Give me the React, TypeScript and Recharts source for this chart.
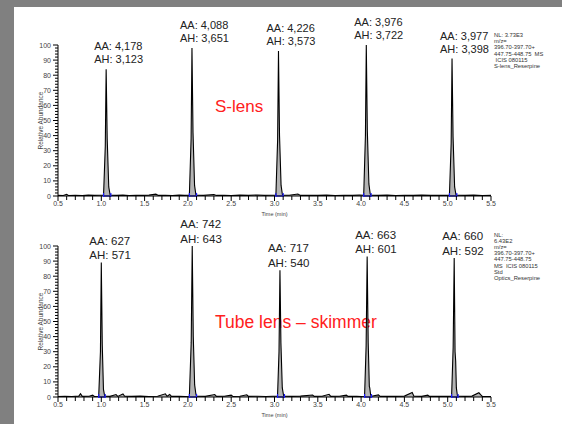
import { ComposedChart, Area, XAxis, YAxis, Scatter, ReferenceLine } from "recharts";
/* eslint-disable  @typescript-eslint/no-explicit-any */

const FONT = "Arial, 'Liberation Sans', Helvetica, sans-serif";

// major tick labels
const X_MAJOR = [0.5, 1.0, 1.5, 2.0, 2.5, 3.0, 3.5, 4.0, 4.5, 5.0, 5.5];
const Y_MAJOR = [0, 10, 20, 30, 40, 50, 60, 70, 80, 90, 100];
// minor ticks every 0.1 min / 2 %
const X_TICKS = Array.from({ length: 51 }, (_, i) => Math.round((0.5 + i * 0.1) * 10) / 10);
const Y_TICKS = Array.from({ length: 51 }, (_, i) => i * 2);

// S-lens trace [time, relative abundance]
const TOP_TRACE: [number, number][] = [
  [0.5, 0.4], [0.56, 0.3], [0.6, 1.1], [0.62, 0.3], [0.7, 0.5], [0.78, 0.3], [0.85, 0.6], [0.92, 0.4], [0.98, 0.5],
  [1.026, 0.5], [1.046, 33], [1.056, 84], [1.068, 38], [1.086, 6], [1.101, 1], [1.11, 0.5],
  [1.18, 0.4], [1.25, 0.6], [1.32, 0.3], [1.4, 0.5], [1.48, 0.4], [1.55, 0.6], [1.63, 1.2], [1.66, 0.4], [1.74, 0.5], [1.82, 0.3], [1.9, 0.6], [1.96, 0.4],
  [2.017, 0.5], [2.037, 38], [2.047, 98], [2.059, 42], [2.077, 7], [2.092, 1], [2.1, 0.5],
  [2.18, 0.4], [2.3, 1.0], [2.33, 0.4], [2.42, 0.5], [2.5, 0.3], [2.6, 0.6], [2.7, 0.4], [2.8, 0.7], [2.88, 0.4], [2.96, 0.5],
  [3.016, 0.5], [3.036, 37], [3.046, 96], [3.058, 40], [3.076, 7], [3.091, 1], [3.1, 0.5],
  [3.17, 0.5], [3.27, 1.3], [3.3, 0.4], [3.4, 0.5], [3.5, 0.4], [3.6, 0.6], [3.7, 0.3], [3.8, 0.5], [3.9, 0.4], [3.98, 0.6],
  [4.03, 0.5], [4.05, 40], [4.06, 100], [4.072, 43], [4.09, 8], [4.105, 1.5], [4.115, 0.5],
  [4.2, 0.4], [4.3, 0.6], [4.4, 0.3], [4.5, 0.5], [4.6, 0.4], [4.7, 0.6], [4.8, 0.4], [4.9, 0.5], [4.98, 0.4],
  [5.02, 0.5], [5.04, 35], [5.05, 91], [5.062, 39], [5.08, 6], [5.095, 1], [5.105, 0.5],
  [5.2, 0.4], [5.3, 0.6], [5.4, 0.3], [5.5, 0.4],
];

// Tube lens - skimmer trace
const BOTTOM_TRACE: [number, number][] = [
  [0.5, 0.3], [0.58, 0.5], [0.66, 0.3], [0.74, 0.6], [0.76, 2.2], [0.78, 0.4], [0.86, 0.5], [0.9, 1.2], [0.92, 0.3],
  [0.97, 0.5], [0.99, 30], [1.0, 89], [1.011, 35], [1.025, 5], [1.038, 1], [1.045, 0.5],
  [1.1, 0.4], [1.17, 1.6], [1.19, 0.4], [1.25, 2.0], [1.27, 0.5], [1.35, 0.4], [1.45, 0.6], [1.55, 0.3], [1.65, 0.5], [1.74, 2.1], [1.76, 0.5], [1.79, 1.7], [1.81, 0.4], [1.9, 0.5], [1.97, 0.3],
  [2.017, 0.5], [2.038, 36], [2.05, 100], [2.062, 40], [2.078, 8], [2.092, 2], [2.1, 0.5],
  [2.2, 0.4], [2.31, 1.6], [2.33, 0.4], [2.42, 0.5], [2.5, 1.2], [2.52, 0.3], [2.6, 0.5], [2.68, 1.5], [2.7, 0.4], [2.8, 0.5], [2.9, 0.3], [2.98, 0.5],
  [3.035, 0.5], [3.052, 30], [3.063, 84], [3.074, 36], [3.09, 6], [3.105, 1], [3.115, 0.5],
  [3.2, 0.4], [3.3, 0.6], [3.44, 1.3], [3.46, 0.4], [3.55, 0.5], [3.63, 1.8], [3.65, 0.4], [3.75, 0.5], [3.83, 1.2], [3.85, 0.4], [3.95, 0.5], [4.0, 0.3],
  [4.04, 0.5], [4.058, 34], [4.07, 93], [4.082, 36], [4.095, 7], [4.1, 6], [4.11, 1.5], [4.12, 0.5],
  [4.2, 1.4], [4.22, 0.4], [4.3, 0.5], [4.4, 0.4], [4.5, 0.6], [4.59, 3.0], [4.61, 0.5], [4.7, 0.4], [4.77, 1.2], [4.79, 0.4], [4.9, 0.5], [5.0, 0.4],
  [5.045, 0.5], [5.063, 33], [5.075, 92], [5.085, 30], [5.092, 24], [5.1, 6], [5.112, 1], [5.12, 0.5],
  [5.2, 0.4], [5.28, 0.6], [5.36, 2.8], [5.38, 1.5], [5.4, 0.4], [5.5, 0.3],
];

// integration start / end (blue markers)
const TOP_MARKS: [number, number][] = [[1.026, 1.11], [2.017, 2.1], [3.016, 3.1], [4.03, 4.115], [5.02, 5.105]];
const BOTTOM_MARKS: [number, number][] = [[0.97, 1.045], [2.017, 2.1], [3.035, 3.115], [4.04, 4.12], [5.045, 5.12]];

// peak apex + area / height annotations
const TOP_PEAKS = [
  { t: 1.056, v: 84, aa: "4,178", ah: "3,123" },
  { t: 2.047, v: 98, aa: "4,088", ah: "3,651" },
  { t: 3.046, v: 96, aa: "4,226", ah: "3,573" },
  { t: 4.06, v: 100, aa: "3,976", ah: "3,722" },
  { t: 5.05, v: 91, aa: "3,977", ah: "3,398" },
];
const BOTTOM_PEAKS = [
  { t: 1.0, v: 89, aa: "627", ah: "571" },
  { t: 2.05, v: 100, aa: "742", ah: "643" },
  { t: 3.063, v: 84, aa: "717", ah: "540" },
  { t: 4.07, v: 93, aa: "663", ah: "601" },
  { t: 5.075, v: 92, aa: "660", ah: "592" },
];

const TOP_INFO = ["NL: 3.73E3", "m/z=", "396.70-397.70+", "447.75-448.75  MS", " ICIS 080115", "S-lens_Reserpine"];
const BOTTOM_INFO = ["NL:", "6.43E2", "m/z=", "396.70-397.70+", "447.75-448.75", "MS  ICIS 080115", "Std", "Optics_Reserpine"];

const XTick = (props: any) => {
  const { x, y, payload } = props;
  const v = payload.value;
  const major = X_MAJOR.some((m) => Math.abs(m - v) < 1e-6);
  return (
    <g>
      <line x1={x} y1={y} x2={x} y2={y + (major ? 5 : 4)} stroke="#000" strokeWidth={1} />
      {major && (
        <text x={x} y={y + 10} textAnchor="middle" fontSize={7} fill="#444" fontFamily={FONT}>
          {v.toFixed(1)}
        </text>
      )}
    </g>
  );
};

const YTick = (props: any) => {
  const { x, y, payload } = props;
  const v = payload.value;
  const major = Y_MAJOR.includes(v);
  return (
    <g>
      <line x1={x} y1={y} x2={x - (major ? 5 : 3)} y2={y} stroke="#000" strokeWidth={1} />
      {major && (
        <text x={x - 7} y={y + 2.5} textAnchor="end" fontSize={7} fill="#444" fontFamily={FONT}>
          {v}
        </text>
      )}
    </g>
  );
};

const YTitle = (props: any) => {
  const { viewBox } = props;
  const cx = viewBox.x + 40;
  const cy = viewBox.y + viewBox.height / 2;
  return (
    <text
      x={cx}
      y={cy}
      transform={`rotate(-90, ${cx}, ${cy})`}
      textAnchor="middle"
      dominantBaseline="central"
      fontSize={6.5}
      fill="#444"
      fontFamily={FONT}
    >
      Relative Abundance
    </text>
  );
};

const BlueMark = (props: any) => {
  const { cx, cy } = props;
  return <line x1={cx} y1={cy - 3} x2={cx} y2={cy + 1} stroke="#1a1aff" strokeWidth={1.2} />;
};

const PeakLabel = (props: any) => {
  const { cx, cy, payload, lift, gap, size } = props;
  return (
    <g fontFamily={FONT} fontSize={size} fill="#222">
      <text x={cx - 12} y={cy - lift - gap}>{`AA: ${payload.aa}`}</text>
      <text x={cx - 12} y={cy - lift}>{`AH: ${payload.ah}`}</text>
    </g>
  );
};

function Panel({ trace, marks, peaks, top, height, marginTop, lift, gap, size }: any) {
  const data = trace.map(([t, v]: [number, number]) => ({ t, v }));
  const markPts = marks.flatMap(([s, e]: [number, number]) => [
    { t: s, v: 0 },
    { t: e, v: 0 },
  ]);
  return (
    <div style={{ position: "absolute", left: 0, top }}>
      <ComposedChart width={562} height={height} margin={{ top: marginTop, right: 71, bottom: 0, left: 0 }}>
        <XAxis
          dataKey="t"
          type="number"
          domain={[0.5, 5.5]}
          ticks={X_TICKS}
          interval={0}
          tickSize={0}
          tickMargin={0}
          tickLine={false}
          tick={<XTick />}
          height={26}
          stroke="#000"
          label={{ value: "Time (min)", position: "insideBottom", offset: 6, fontSize: 5.5, fill: "#444", fontFamily: FONT }}
        />
        <YAxis
          type="number"
          domain={[0, 100]}
          ticks={Y_TICKS}
          interval={0}
          tickSize={0}
          tickMargin={0}
          tickLine={false}
          tick={<YTick />}
          width={58}
          stroke="#000"
          label={<YTitle />}
        />
        <Area
          data={data}
          dataKey="v"
          type="linear"
          stroke="#000"
          strokeWidth={1.1}
          fill="#b4b4b4"
          fillOpacity={1}
          isAnimationActive={false}
          dot={false}
          activeDot={false}
        />
        {marks.map(([s, e]: [number, number], i: number) => (
          <ReferenceLine
            key={i}
            segment={[{ x: s, y: 0 }, { x: e, y: 0 }]}
            stroke="#1a1aff"
            strokeWidth={1.2}
          />
        ))}
        <Scatter data={markPts} dataKey="v" shape={<BlueMark />} isAnimationActive={false} />
        <Scatter
          data={peaks}
          dataKey="v"
          shape={(p: any) => <PeakLabel {...p} lift={lift} gap={gap} size={size} />}
          isAnimationActive={false}
        />
      </ComposedChart>
    </div>
  );
}

export default function App() {
  return (
    <div style={{ position: "absolute", left: 0, top: 0, width: 562, height: 424, background: "#fff", overflow: "hidden" }}>
      <div style={{ position: "absolute", left: 0, top: 0, width: 562, height: 7, background: "#808080" }} />
      <div style={{ position: "absolute", left: 0, top: 0, width: 14, height: 424, background: "#808080" }} />
      <svg width={562} height={424} style={{ position: "absolute", left: 0, top: 0 }} fontFamily={FONT}>
        <text x={215} y={112} fontSize={17} fill="#ff2020">S-lens</text>
        <text x={215} y={328} fontSize={17.5} fill="#ff2020">Tube lens – skimmer</text>
        {TOP_INFO.map((s, i) => (
          <text key={s} x={494} y={37 + i * 6.2} fontSize={5.8} fill="#333" style={{ whiteSpace: "pre" }}>
            {s}
          </text>
        ))}
        {BOTTOM_INFO.map((s, i) => (
          <text key={s} x={494} y={237 + i * 6.1} fontSize={5.8} fill="#333" style={{ whiteSpace: "pre" }}>
            {s}
          </text>
        ))}
      </svg>
      <Panel trace={TOP_TRACE} marks={TOP_MARKS} peaks={TOP_PEAKS} top={0} height={222} marginTop={45} lift={6} gap={13} size={11} />
      <Panel trace={BOTTOM_TRACE} marks={BOTTOM_MARKS} peaks={BOTTOM_PEAKS} top={200} height={223} marginTop={46} lift={3.5} gap={14.5} size={11.5} />
    </div>
  );
}
